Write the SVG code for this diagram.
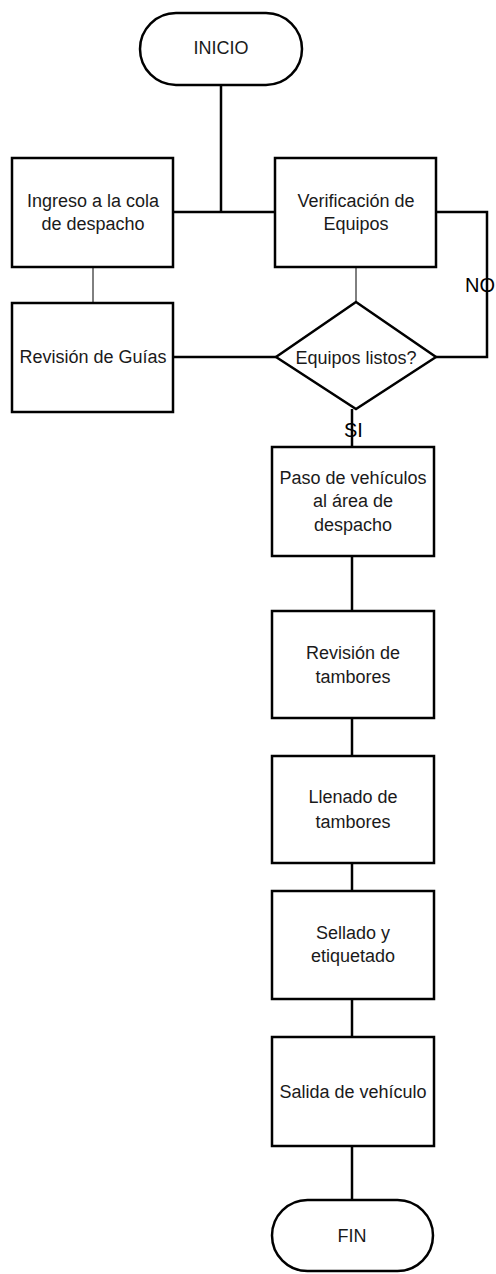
<svg xmlns="http://www.w3.org/2000/svg" width="496" height="1274" viewBox="0 0 496 1274">
<style>
.shape{fill:#fff;stroke:#000;stroke-width:2.5}
.t{font-family:"Liberation Sans",Arial,sans-serif;font-size:18px;fill:#1a1a1a;text-anchor:middle}
.lbl{font-family:"Liberation Sans",Arial,sans-serif;font-size:20px;fill:#000}
.c{fill:none;stroke:#000;stroke-width:2.5}
.thin{fill:none;stroke:#000;stroke-width:1}
</style>
<rect width="496" height="1274" fill="#fff"/>
<g id="connectors">
<path class="c" d="M221 85V212"/>
<path class="c" d="M173 212H275"/>
<path class="thin" d="M93 267V303"/>
<path class="thin" d="M356 267V302"/>
<path class="c" d="M436 212H487V357H436"/>
<path class="c" d="M173 357H276"/>
<path class="c" d="M352 409V447"/>
<path class="c" d="M352 556V611"/>
<path class="c" d="M352 718V756"/>
<path class="c" d="M352 863V891"/>
<path class="c" d="M352 999V1037"/>
<path class="c" d="M352 1146V1200"/>
<text class="lbl" x="465" y="292">NO</text>
<text class="lbl" x="344" y="437">SI</text>
</g>
<g id="inicio">
<rect class="shape" x="140" y="13" width="162" height="72" rx="36" ry="36"/>
<text class="t" x="221" y="54">INICIO</text>
</g>
<g id="ingreso">
<rect class="shape" x="12" y="158" width="161" height="109"/>
<text class="t" x="93" y="207">Ingreso a la cola</text>
<text class="t" x="93" y="230">de despacho</text>
</g>
<g id="verificacion">
<rect class="shape" x="275" y="158" width="161" height="109"/>
<text class="t" x="356" y="207">Verificación de</text>
<text class="t" x="356" y="230">Equipos</text>
</g>
<g id="revision-guias">
<rect class="shape" x="12" y="303" width="161" height="109"/>
<text class="t" x="93" y="363">Revisión de Guías</text>
</g>
<g id="equipos-listos">
<polygon class="shape" points="356,302 436,357 356,409 276,357"/>
<text class="t" x="356" y="364">Equipos listos?</text>
</g>
<g id="paso">
<rect class="shape" x="272" y="447" width="162" height="109"/>
<text class="t" x="353" y="484">Paso de vehículos</text>
<text class="t" x="353" y="507">al área de</text>
<text class="t" x="353" y="531">despacho</text>
</g>
<g id="revision-tambores">
<rect class="shape" x="272" y="611" width="162" height="107"/>
<text class="t" x="353" y="659">Revisión de</text>
<text class="t" x="353" y="683">tambores</text>
</g>
<g id="llenado">
<rect class="shape" x="272" y="756" width="162" height="107"/>
<text class="t" x="353" y="803">Llenado de</text>
<text class="t" x="353" y="828">tambores</text>
</g>
<g id="sellado">
<rect class="shape" x="272" y="891" width="162" height="108"/>
<text class="t" x="353" y="939">Sellado y</text>
<text class="t" x="353" y="962">etiquetado</text>
</g>
<g id="salida">
<rect class="shape" x="272" y="1037" width="162" height="109"/>
<text class="t" x="353" y="1098">Salida de vehículo</text>
</g>
<g id="fin">
<rect class="shape" x="272" y="1200" width="161" height="71" rx="35.5" ry="35.5"/>
<text class="t" x="352" y="1242">FIN</text>
</g>
</svg>
